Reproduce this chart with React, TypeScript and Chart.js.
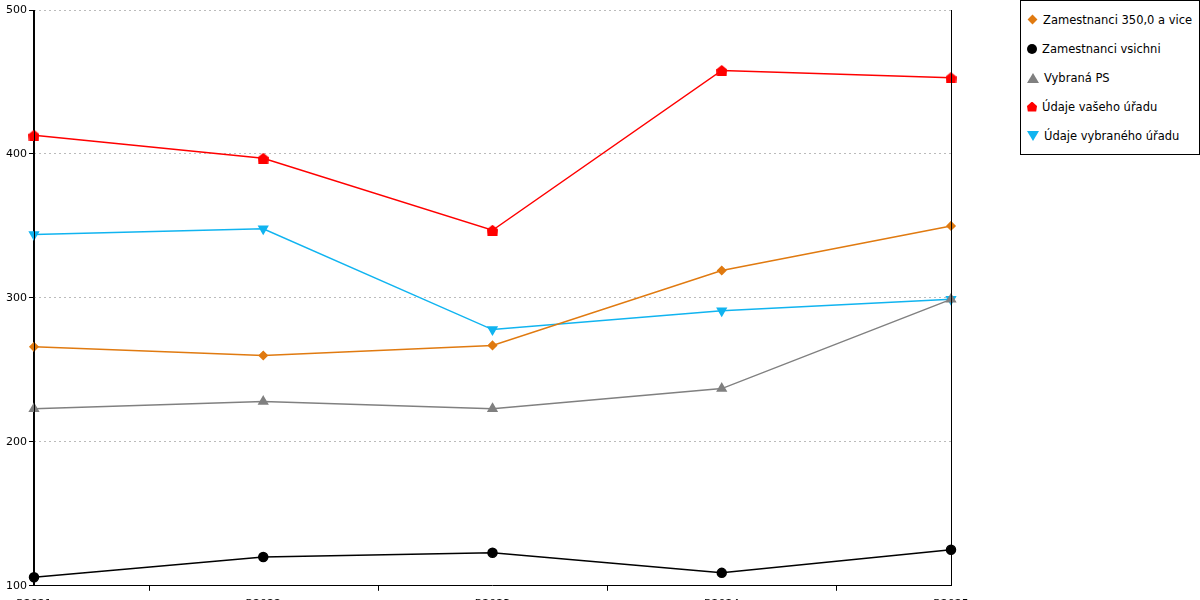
import React, { useEffect, useRef } from "react";
import { Chart, registerables } from "chart.js";
Chart.register(...registerables);

const categories = ["R2021", "R2022", "R2023", "R2024", "R2025"];
const seriesNames = ["Zamestnanci 350,0 a vice", "Zamestnanci vsichni", "Vybraná PS", "Údaje vašeho úřadu", "Údaje vybraného úřadu"];
const orangeVals = [266, 260, 267, 319, 350];
const blackVals = [106, 120, 123, 109, 125];
const grayVals = [223, 228, 223, 237, 299];
const redVals = [413, 397, 347, 458, 453];
const cyanVals = [344, 348, 278, 291, 299];
const colors = ["#e07a10", "#000000", "#808080", "#ff0000", "#10b4f0"];

function houseImg(color: string) {
  const c = document.createElement("canvas");
  c.width = 11; c.height = 11;
  const g = c.getContext("2d")!;
  g.fillStyle = color;
  g.beginPath();
  g.moveTo(5.5, 0); g.lineTo(11, 4.5); g.lineTo(10.5, 11); g.lineTo(0.5, 11); g.lineTo(0, 4.5);
  g.closePath(); g.fill();
  return c;
}

const legendMarker = (i: number) => {
  const c = colors[i];
  const base: React.CSSProperties = { display: "inline-block", width: 10, height: 10, marginRight: 5, flexShrink: 0 };
  if (i === 0) return <span style={{ ...base, width: 7, height: 7, background: c, transform: "rotate(45deg)", margin: "0 7px 0 2px" }} />;
  if (i === 1) return <span style={{ ...base, background: c, borderRadius: "50%" }} />;
  if (i === 2) return <span style={{ ...base, width: 0, height: 0, borderLeft: "6px solid transparent", borderRight: "6px solid transparent", borderBottom: `10px solid ${c}` }} />;
  if (i === 3) return <span style={{ ...base, background: c, clipPath: "polygon(50% 0,100% 45%,92% 100%,8% 100%,0 45%)" }} />;
  return <span style={{ ...base, width: 0, height: 0, borderLeft: "6px solid transparent", borderRight: "6px solid transparent", borderTop: `10px solid ${c}` }} />;
};

export default function App() {
  const ref = useRef<HTMLCanvasElement>(null);
  useEffect(() => {
    document.body.style.margin = "0";
    const vals = [orangeVals, blackVals, grayVals, redVals, cyanVals];
    const styles: any[] = ["rectRot", "circle", "triangle", houseImg(colors[3]), "triangle"];
    const radii = [4, 4.5, 5, 5, 5];
    const deco = {
      id: "deco",
      afterDraw(chart: any) {
        const { ctx, chartArea: a, scales } = chart;
        ctx.save();
        ctx.setLineDash([]);
        ctx.strokeStyle = "#000"; ctx.lineWidth = 1;
        ctx.beginPath();
        ctx.moveTo(a.right + 0.5, a.top); ctx.lineTo(a.right + 0.5, a.bottom);
        ctx.moveTo(a.left + 0.5, a.top); ctx.lineTo(a.left + 0.5, a.bottom);
        for (let i = 0; i < categories.length - 1; i++) {
          const x = Math.round((scales.x.getPixelForValue(i) + scales.x.getPixelForValue(i + 1)) / 2) + 0.5;
          ctx.moveTo(x, a.bottom); ctx.lineTo(x, a.bottom + 5);
        }
        ctx.stroke();
        ctx.restore();
      },
    };
    const chart = new Chart(ref.current!, {
      type: "line",
      data: {
        labels: categories,
        datasets: vals.map((v, i) => ({
          label: seriesNames[i],
          data: v,
          borderColor: colors[i],
          backgroundColor: colors[i],
          borderWidth: 1.5,
          pointStyle: styles[i],
          pointRadius: radii[i],
          pointRotation: i === 4 ? 180 : 0,
          tension: 0,
        })),
      },
      options: {
        animation: false,
        responsive: false,
        layout: { padding: { left: 4, right: 249, top: 10, bottom: -15 } },
        plugins: { legend: { display: false }, tooltip: { enabled: false } },
        scales: {
          x: {
            offset: false,
            grid: { display: false },
            border: { display: true, color: "#000" },
            ticks: { color: "#000", font: { family: "DejaVu Sans", size: 11 }, maxRotation: 0, padding: 4 },
          },
          y: {
            min: 100, max: 500,
            grid: { color: "#bbb", tickColor: "#000", tickLength: 5 },
            border: { display: true, color: "#000", dash: [2, 3] } as any,
            ticks: { stepSize: 100, color: "#000", font: { family: "DejaVu Sans", size: 11 }, padding: 2 },
          },
        },
      },
      plugins: [deco],
    });
    return () => chart.destroy();
  }, []);
  return (
    <div style={{ position: "relative", width: 1200, height: 600, fontFamily: "DejaVu Sans", fontSize: 11.5 }}>
      <canvas ref={ref} width={1200} height={600} />
      <div style={{ position: "absolute", left: 1020, top: 0, width: 180, height: 155, border: "1px solid #000", boxSizing: "border-box", background: "#fff", padding: "4px 0 0 6px" }}>
        {seriesNames.map((n, i) => (
          <div key={n} style={{ display: "flex", alignItems: "center", height: 29, whiteSpace: "nowrap" }}>
            {legendMarker(i)}
            <span>{n}</span>
          </div>
        ))}
      </div>
    </div>
  );
}
